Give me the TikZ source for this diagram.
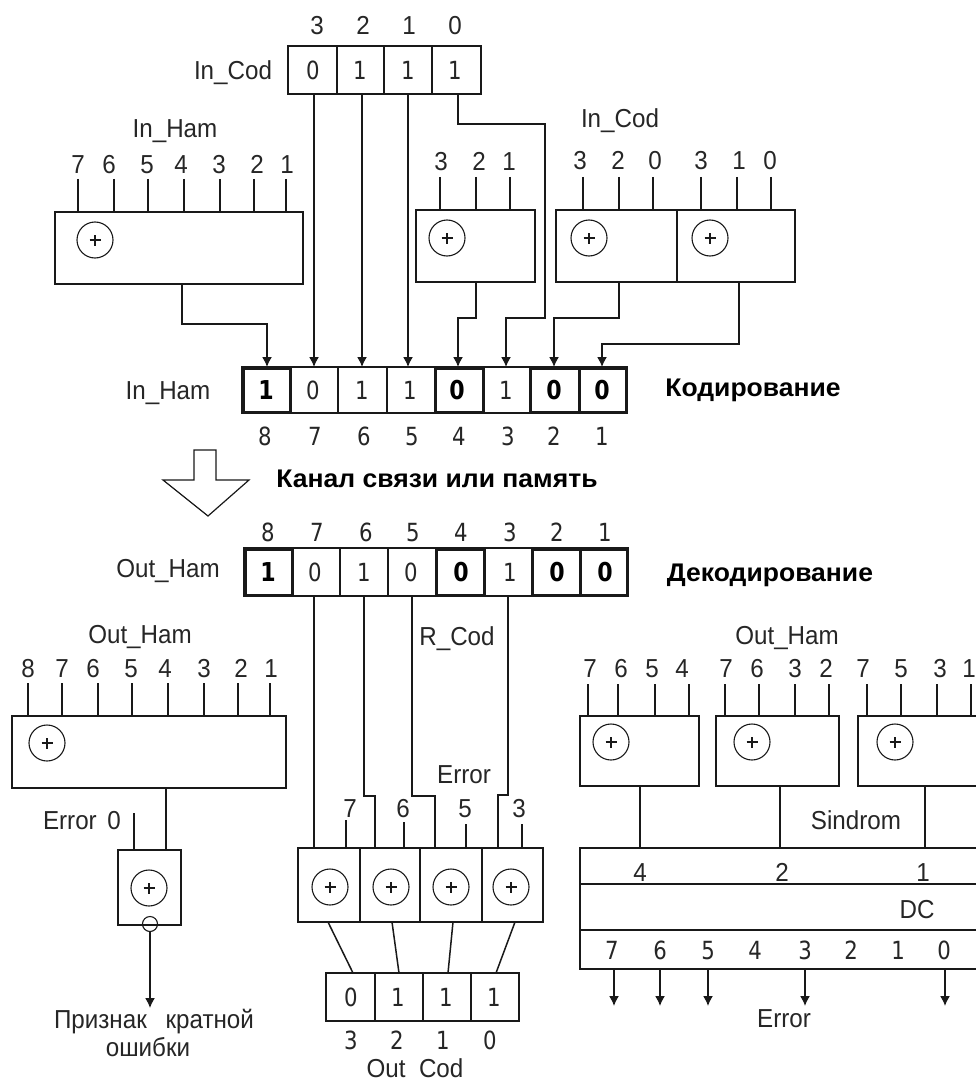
\documentclass[tikz,border=0pt]{standalone}
\usepackage{fontspec}
\setmainfont[FakeStretch=0.93]{Liberation Sans}
\newfontfamily\cellf[FakeStretch=0.85]{DejaVu Sans}
\newfontfamily\headf[FakeStretch=1.04]{Liberation Sans Bold}
\usetikzlibrary{arrows.meta}
\newcounter{txt}
\tikzset{
  line/.style={line width=1.5pt,line join=miter,draw=black!90},
  wire/.style={line/.try,line width=1.5pt,draw=black!90},
  arr/.style={wire,-{Latex[length=10pt,width=10pt,inset=2pt]}},
  boxn/.style={rectangle,draw=black!90,line width=1.5pt,inner sep=0pt,outer sep=0pt,fill=white},
  thickbox/.style={boxn,line width=3pt},
  oplus/.style={circle,draw=black!90,line width=1.1pt,minimum size=36pt,inner sep=0pt,outer sep=0pt,
    path picture={\draw[line width=1.1pt] ([xshift=-5.5pt]path picture bounding box.center) -- ([xshift=5.5pt]path picture bounding box.center)
      ([yshift=-5.5pt]path picture bounding box.center) -- ([yshift=5.5pt]path picture bounding box.center);}},
  lab/.style={inner sep=0pt,outer sep=0pt,text height=19pt,text depth=0pt,text=black!85,font=\fontsize{26}{30}\selectfont},
  num/.style={inner sep=0pt,outer sep=0pt,text height=19pt,text depth=0pt,text=black!85,font=\cellf\fontsize{25}{30}\selectfont},
  bnum/.style={num,text=black,font=\cellf\bfseries\fontsize{26}{30}\selectfont},
  head/.style={inner sep=0pt,outer sep=0pt,text height=18pt,text depth=0pt,text=black,font=\headf\fontsize{25.5}{30}\selectfont}
}
% box by corners
\newcommand{\bx}[6][boxn]{\node[#1,minimum width={(#5-#3)*1pt},minimum height={(#6-#4)*1pt}] (#2) at ({(#3+#5)/2},{(#4+#6)/2}) {};}
\newcommand{\tx}[4][lab]{\stepcounter{txt}\node[#1] (t\arabic{txt}) at (#2,#3) {#4};}
% stub pins: x, free-end y, box
\newcommand{\pins}[3]{\foreach \px in {#1} {\coordinate (pinend) at (\px,#2); \draw[wire] (pinend) -- (pinend |- #3.north);}}
\newcommand{\pl}[3]{\stepcounter{txt}\node[oplus] (c\arabic{txt}) at (#1,#2) {};}
\begin{document}
\begin{tikzpicture}[x=1pt,y=-1pt]
\useasboundingbox (0,0) rectangle (976,1078);
\fill[white] (0,0) rectangle (976,1078);
\begin{scope}
\clip (0,0) rectangle (976,1078);

% ---------- In_Cod register
\bx{ic3}{288}{46}{337}{94}
\bx{ic2}{337}{46}{384}{94}
\bx{ic1}{384}{46}{432}{94}
\bx{ic0}{432}{46}{481}{94}
\foreach \x/\t in {317/3,363/2,409/1,455/0} {\tx{\x}{25}{\t}}
\foreach \x/\t in {313/0,360/1,408/1,455/1} {\tx[num]{\x}{70}{\t}}
\tx{233}{70}{In\_Cod}

% ---------- In_Ham register
\bx{ih8}{242}{367}{290}{413}
\bx{ih7}{290}{367}{338}{413}
\bx{ih6}{338}{367}{387}{413}
\bx{ih5}{387}{367}{435}{413}
\bx{ih4}{435}{367}{483}{413}
\bx{ih3}{483}{367}{530}{413}
\bx{ih2}{530}{367}{579}{413}
\bx{ih1}{579}{367}{627}{413}
\bx[thickbox]{ih8b}{243}{368}{290}{412}
\bx[thickbox]{ih4b}{435}{368}{483}{412}
\bx[thickbox]{ih2b}{530}{368}{579}{412}
\bx[thickbox]{ih1b}{579}{368}{626}{412}
\foreach \x/\t in {266/1,457/0,554/0,602/0} {\tx[bnum]{\x}{390}{\t}}
\foreach \x/\t in {313/0,362/1,410/1,506/1} {\tx[num]{\x}{390}{\t}}
\foreach \x/\t in {265/8,315/7,364/6,412/5,459/4,508/3,554/2,602/1} {\tx[num]{\x}{436}{\t}}
\tx{168}{390}{In\_Ham}
\tx[head]{753}{387}{Кодирование}

% ---------- parity blocks, encoder
\tx{175}{128}{In\_Ham}
\foreach \x/\t in {78/7,109/6,147/5,181/4,219/3,257/2,287/1} {\tx{\x}{164}{\t}}
\bx{ea}{55}{212}{303}{284}
\pins{78,114,148,184,220,254,286}{179}{ea}
\pl{95}{240}{}

\foreach \x/\t in {441/3,479/2,509/1} {\tx{\x}{161}{\t}}
\bx{eb}{416}{210}{535}{282}
\pins{440,476,510}{177}{eb}
\pl{447}{238}{}

\tx{620}{118}{In\_Cod}
\foreach \x/\t in {580/3,618/2,655/0,701/3,739/1,770/0} {\tx{\x}{160}{\t}}
\bx{ec}{556}{210}{677}{282}
\bx{ed}{677}{210}{795}{282}
\pins{583,619,653}{177}{ec}
\pins{701,737,771}{177}{ed}
\pl{589}{238}{}
\pl{710}{238}{}

% ---------- encoder wires
\draw[arr] (182,0 |- ea.south) -- (182,324) -- (267,324) -- (267,0 |- ih8.north);
\draw[arr] (314,0 |- ic3.south) -- (314,0 |- ih7.north);
\draw[arr] (362,0 |- ic2.south) -- (362,0 |- ih6.north);
\draw[arr] (408,0 |- ic1.south) -- (408,0 |- ih5.north);
\draw[arr] (476,0 |- eb.south) -- (476,318) -- (458,318) -- (458,0 |- ih4.north);
\draw[arr] (458,0 |- ic0.south) -- (458,124) -- (545,124) -- (545,318) -- (506,318) -- (506,0 |- ih3.north);
\draw[arr] (619,0 |- ec.south) -- (619,318) -- (554,318) -- (554,0 |- ih2.north);
\draw[arr] (739,0 |- ed.south) -- (739,344) -- (602,344) -- (602,0 |- ih1.north);

% ---------- channel arrow
\draw[line width=1.2pt,draw=black!90,line join=miter] (194,450) -- (216,450) -- (216,480) -- (249,480) -- (208,516) -- (163,480) -- (194,480) -- cycle;
\tx[head]{437}{478}{Канал связи или память}

% ---------- Out_Ham register
\bx{oh8}{244}{548}{292}{596}
\bx{oh7}{292}{548}{340}{596}
\bx{oh6}{340}{548}{388}{596}
\bx{oh5}{388}{548}{436}{596}
\bx{oh4}{436}{548}{484}{596}
\bx{oh3}{484}{548}{532}{596}
\bx{oh2}{532}{548}{580}{596}
\bx{oh1}{580}{548}{628}{596}
\bx[thickbox]{oh8b}{245}{549}{292}{595}
\bx[thickbox]{oh4b}{436}{549}{484}{595}
\bx[thickbox]{oh2b}{532}{549}{580}{595}
\bx[thickbox]{oh1b}{580}{549}{627}{595}
\foreach \x/\t in {268/1,461/0,557/0,605/0} {\tx[bnum]{\x}{572}{\t}}
\foreach \x/\t in {315/0,364/1,411/0,510/1} {\tx[num]{\x}{572}{\t}}
\foreach \x/\t in {268/8,317/7,366/6,413/5,461/4,510/3,557/2,605/1} {\tx[num]{\x}{532}{\t}}
\tx{168}{568}{Out\_Ham}
\tx[head]{770}{572}{Декодирование}

% ---------- multiple error check
\tx{140}{634}{Out\_Ham}
\foreach \x/\t in {28/8,62/7,93/6,131/5,165/4,204/3,241/2,271/1} {\tx{\x}{668}{\t}}
\bx{da}{12}{716}{286}{788}
\pins{28,62,98,132,168,204,238,270}{683}{da}
\pl{47}{743}{}
\bx{db}{118}{850}{181}{925}
\draw[wire] (166,0 |- da.south) -- (166,0 |- db.north);
\pins{134}{813}{db}
\tx{82}{820}{Error\hspace{4pt} 0}
\pl{149}{888}{}
\node[circle,draw=black!90,line width=1.1pt,minimum size=15pt,inner sep=0pt,outer sep=0pt] (inv) at (150,924) {};
\coordinate (errend) at (150,1008);
\draw[arr] (inv.south) -- (errend);
\tx{154}{1019}{Признак\hspace{12pt} кратной}
\tx{148}{1047}{ошибки}

% ---------- correction block
\bx{x7}{298}{848}{360}{922}
\bx{x6}{360}{848}{420}{922}
\bx{x5}{420}{848}{482}{922}
\bx{x3}{482}{848}{543}{922}
\pl{330}{887}{}
\pl{391}{887}{}
\pl{451}{887}{}
\pl{511}{887}{}
\draw[wire] (314,0 |- oh7.south) -- (314,0 |- x7.north);
\draw[wire] (364,0 |- oh6.south) -- (364,796) -- (375,796) -- (375,0 |- x6.north);
\draw[wire] (412,0 |- oh5.south) -- (412,796) -- (435,796) -- (435,0 |- x5.north);
\draw[wire] (508,0 |- oh3.south) -- (508,795) -- (498,795) -- (498,0 |- x3.north);
\tx{457}{636}{R\_Cod}
\tx{464}{774}{Error}
\tx{350}{808}{7}
\tx{403}{808}{6}
\tx{465}{808}{5}
\tx{519}{808}{3}
\pins{346}{820}{x7}
\pins{404}{822}{x6}
\pins{466}{824}{x5}
\pins{522}{824}{x3}

% ---------- Out_Cod
\bx{oc3}{326}{973}{375}{1021}
\bx{oc2}{375}{973}{423}{1021}
\bx{oc1}{423}{973}{471}{1021}
\bx{oc0}{471}{973}{519}{1021}
\foreach \x/\t in {351/0,398/1,446/1,494/1} {\tx[num]{\x}{997}{\t}}
\foreach \x/\t in {351/3,397/2,443/1,490/0} {\tx[num]{\x}{1040}{\t}}
\tx{415}{1068}{Out\_Cod}
\draw[wire] (328,0 |- x7.south) -- (353,0 |- oc3.north);
\draw[wire] (392,0 |- x6.south) -- (399,0 |- oc2.north);
\draw[wire] (453,0 |- x5.south) -- (448,0 |- oc1.north);
\draw[wire] (515,0 |- x3.south) -- (496,0 |- oc0.north);

% ---------- syndrome
\tx{787}{635}{Out\_Ham}
\foreach \x/\t in {590/7,621/6,652/5,682/4,726/7,757/6,795/3,826/2,863/7,901/5,940/3,969/1} {\tx{\x}{668}{\t}}
\bx{sa}{580}{716}{699}{786}
\bx{sb}{716}{716}{839}{786}
\bx{sc}{858}{716}{990}{786}
\pins{588,618,655,689}{684}{sa}
\pins{725,759,795,829}{684}{sb}
\pins{867,901,937,971}{684}{sc}
\pl{611}{742}{}
\pl{752}{742}{}
\pl{895}{742}{}
\bx{dc}{580}{848}{990}{969}
\draw[wire] (640,0 |- sa.south) -- (640,0 |- dc.north);
\draw[wire] (780,0 |- sb.south) -- (780,0 |- dc.north);
\draw[wire] (925,0 |- sc.south) -- (925,0 |- dc.north);
\tx{856}{820}{Sindrom}
\draw[wire] (dc.west |- 0,884) -- (dc.east |- 0,884);
\draw[wire] (dc.west |- 0,930) -- (dc.east |- 0,930);
\tx{640}{872}{4}
\tx{782}{872}{2}
\tx{923}{872}{1}
\tx{917}{909}{DC}
\foreach \x/\t in {612/7,660/6,708/5,755/4,805/3,851/2,898/1,944/0} {\tx[num]{\x}{950}{\t}}
\foreach \x in {614,660,708,805,945} {\coordinate (dcend) at (\x,1006); \draw[arr] (dcend |- dc.south) -- (dcend);}
\tx{784}{1018}{Error}
\end{scope}
\end{tikzpicture}
\end{document}
